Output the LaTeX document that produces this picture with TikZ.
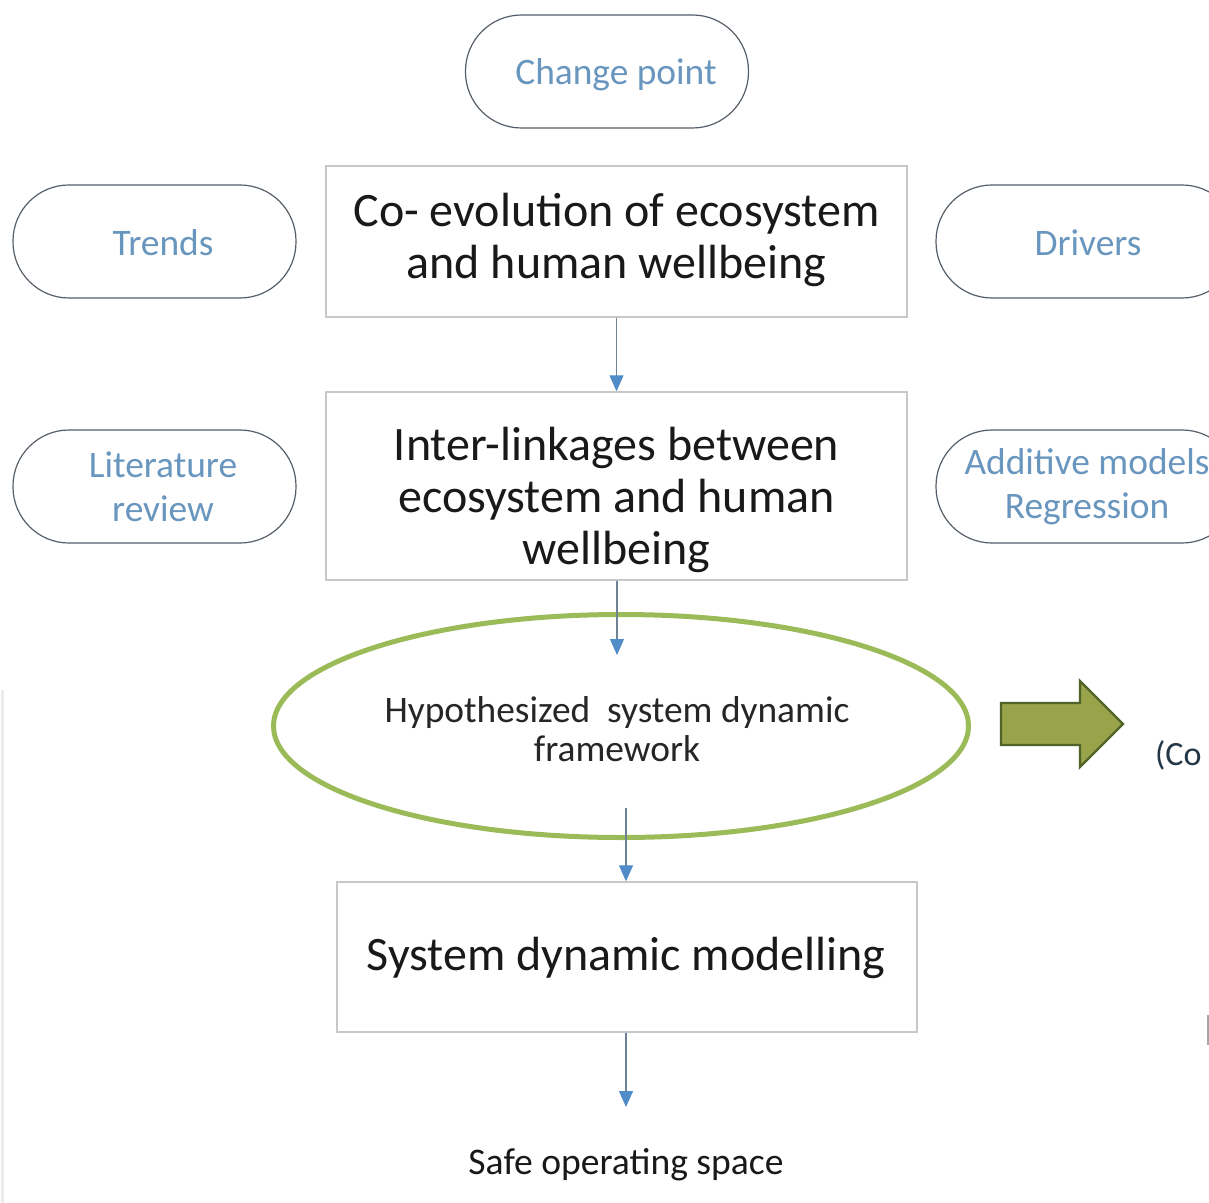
\documentclass[tikz,border=0pt]{standalone}
\usepackage{fontspec}
\setmainfont{Carlito}
\usetikzlibrary{shapes.geometric,arrows.meta}
\definecolor{pilltext}{RGB}{105,150,190}
\definecolor{pillline}{RGB}{85,95,105}
\definecolor{boxline}{RGB}{200,200,200}
\definecolor{arrowblue}{RGB}{80,140,200}
\definecolor{shaftgray}{RGB}{110,130,150}
\definecolor{ellgreen}{RGB}{155,187,89}
\definecolor{olivefill}{RGB}{152,163,74}
\definecolor{olivedark}{RGB}{79,98,40}
\definecolor{slate}{RGB}{35,55,70}
\tikzset{
  pill/.style={draw=pillline, line width=0.6pt, rounded corners=28pt, minimum width=141.5pt, minimum height=56.5pt},
  pillwide/.style={pill, minimum width=151pt},
  pilltxt/.style={text=pilltext, align=center, font=\fontsize{18.7}{22}\selectfont},
  mainbox/.style={draw=boxline, line width=0.7pt, minimum width=290.5pt},
  boxtxt/.style={align=center, text=black!90, font=\fontsize{24}{26}\selectfont},
  conn/.style={draw=shaftgray, line width=0.6pt, -{Triangle[width=7pt,length=8pt,fill=arrowblue,color=arrowblue]}},
}
\begin{document}
\begin{tikzpicture}[x=0.5pt,y=-0.5pt]
\useasboundingbox (0,0) rectangle (1209,1203);
\fill[white] (0,0) rectangle (1209,1203);
% faint left edge line
\draw[black!8, line width=1.5pt] (2,690) -- (2,1203);
% small line bottom right
\draw[black!35, line width=0.6pt] (1208,1015) -- (1208,1045);

\node[pill] (cp) at (607,71.5) {};
\node[pilltxt] (cptxt) at (616,75) {Change point};
\node[pill] (trends) at (154.5,241.5) {};
\node[pilltxt] (trendstxt) at (163,243) {Trends};
\node[pillwide] (drivers) at (1087,241.5) {};
\node[pilltxt] (driverstxt) at (1088,243) {Drivers};
\node[pill] (lit) at (154.5,486.5) {};
\node[pilltxt] (littxt) at (163,487) {Literature\\review};
\node[pillwide] (add) at (1087,486.5) {};
\node[pilltxt] (addtxt) at (1087,487) {Additive models\\Regression};

\node[mainbox, minimum height=75.5pt] (coevo) at (616.5,241.5) {};
\node[boxtxt] (coevotxt) at (616.5,240) {Co- evolution of ecosystem\\and human wellbeing};
\node[mainbox, minimum height=94pt] (inter) at (616.5,486) {};
\node[boxtxt] (intertxt) at (616.5,500) {Inter-linkages between\\ecosystem and human\\wellbeing};
\node[mainbox, minimum width=290pt, minimum height=75pt] (sdm) at (627,957) {};
\node[boxtxt] (sdmtxt) at (626,958) {System dynamic modelling};

\node[ellipse, draw=ellgreen, line width=2.5pt, minimum width=347.5pt, minimum height=111.5pt] (hyp) at (621,726) {};
\node[align=center, text=black!85, font=\fontsize{18.7}{19.5}\selectfont] (hyptext) at (617,729) {Hypothesized\ \ system dynamic\\framework};

\node[text=black!90, font=\fontsize{18.8}{20}\selectfont] (safe) at (626,1165) {Safe operating space};

\coordinate (a2end) at (617,655);
\coordinate (a3start) at (626,808);
\coordinate (a4end) at (626,1107);

\draw[conn] (coevo.south) -- (inter.north);
\draw[conn] (inter.south -| a2end) -- (a2end);
\draw[conn] (a3start) -- (sdm.north -| a3start);
\draw[conn] (sdm.south -| a4end) -- (a4end);

% big olive arrow
\draw[fill=olivefill, draw=olivedark, line width=1.2pt, line join=miter]
  (1001,703) -- (1080,703) -- (1080,681) -- (1123,724) -- (1080,767) -- (1080,745) -- (1001,745) -- cycle;

\node[anchor=west, text=slate, font=\fontsize{17}{20}\selectfont] (co) at (1148,755) {(Co};
\end{tikzpicture}
\end{document}
